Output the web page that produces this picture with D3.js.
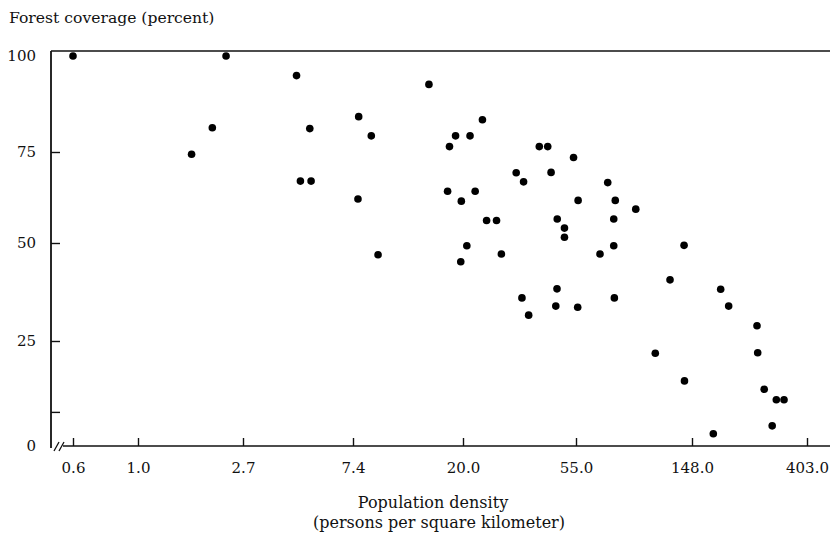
<!DOCTYPE html>
<html lang="en">

<head>
  <meta charset="UTF-8">
  <title>Forest coverage vs population density</title>
  <style>
    body { margin: 0; background: #fff; }
    svg text { font-family: 'DejaVu Serif', serif; fill: #111; }
  </style>
</head>

<body>
  <div id="svg"></div>

  <script src="https://d3js.org/d3.v7.min.js"></script>

  <script>
    // population density (persons / km2) and forest coverage (%) per country
    const density = [0.6, 1.66, 2.02, 2.30, 4.41, 4.57, 4.98, 5.04, 7.74, 7.79,
      8.73, 9.28, 14.7, 17.4, 17.7, 18.7, 19.7, 20.7, 19.6, 21.3,
      22.3, 23.8, 24.7, 27.0, 28.2, 32.2, 33.9, 34.4, 36.0, 39.6,
      42.7, 44.0, 46.5, 46.4, 45.9, 49.6, 49.6, 53.8, 56.0, 55.8,
      67.5, 72.1, 75.9, 76.9, 75.9, 76.3, 91.6, 108.2, 122.7, 138.3,
      138.8, 178.2, 190.0, 203.7, 260.7, 262.3, 277.6, 297.6, 308.5, 329.9]
    const forest = [100, 74.4, 81.3, 100, 94.9, 67.0, 81.1, 67.0, 62.1, 84.2,
      79.2, 47.0, 92.6, 64.2, 76.4, 79.2, 61.5, 49.3, 45.2, 79.2,
      64.2, 83.4, 56.2, 56.2, 47.2, 69.3, 36.0, 66.8, 31.6, 76.4,
      76.4, 69.4, 56.6, 38.3, 33.9, 54.1, 51.6, 73.5, 61.7, 33.6,
      47.2, 66.6, 56.6, 61.7, 49.3, 36.0, 59.3, 22.1, 40.6, 49.4,
      15.5, 2.9, 38.2, 33.9, 28.9, 22.2, 13.5, 4.8, 11.0, 11.0]

    const xTicks = [0.6, 1.0, 2.7, 7.4, 20.0, 55.0, 148.0, 403.0]
    const xTickLabels = ['0.6', '1.0', '2.7', '7.4', '20.0', '55.0', '148.0', '403.0']
    const yTicks = [0, 25, 50, 75, 100]
    const yExtraTick = [8]

    const width = 830
    const height = 540
    const svg = d3.select('#svg').append('svg').attr('width', width).attr('height', height)

    const axisLeftX = 51
    const axisBottomY = 446
    const topY = 51

    // the printed axis is not evenly spaced, so each labelled tick gets its own stop
    const x = d3.scaleLog().domain(xTicks).range([73, 138, 243, 353, 463, 576, 692, 807])
    const y = d3.scaleLinear().domain(yTicks).range([446, 341, 243, 152, 56])

    // frame: top rule, left axis, broken corner, bottom axis
    svg.append('line').attr('x1', axisLeftX).attr('x2', width).attr('y1', topY).attr('y2', topY)
      .attr('stroke', '#111').attr('stroke-width', 1.6)
    svg.append('line').attr('x1', axisLeftX).attr('x2', axisLeftX).attr('y1', topY).attr('y2', axisBottomY + 2)
      .attr('stroke', '#111').attr('stroke-width', 1.8)
    svg.append('path').attr('d', 'M54,451 L59,442 M59,451 L64,442')
      .attr('stroke', '#111').attr('stroke-width', 1.3).attr('fill', 'none')
    svg.append('line').attr('x1', 63).attr('x2', width).attr('y1', axisBottomY).attr('y2', axisBottomY)
      .attr('stroke', '#111').attr('stroke-width', 1.6)

    const xAxis = d3.axisBottom(x).tickValues(xTicks).tickFormat((d, i) => xTickLabels[i])
      .tickSize(-8).tickPadding(16)
    const gX = svg.append('g').attr('transform', `translate(0,${axisBottomY})`).call(xAxis)
    gX.select('.domain').remove()

    const yAxis = d3.axisLeft(y).tickValues(yTicks).tickSize(-9).tickPadding(15)
    const gY = svg.append('g').attr('transform', `translate(${axisLeftX},0)`).call(yAxis)
    gY.select('.domain').remove()
    gY.selectAll('.tick line').filter(d => d === 0 || d === 100).remove()

    svg.append('g').selectAll('line').data(yExtraTick).enter().append('line')
      .attr('x1', axisLeftX).attr('x2', axisLeftX + 9)
      .attr('y1', d => y(d)).attr('y2', d => y(d))
      .attr('stroke', '#111').attr('stroke-width', 1.4)

    svg.selectAll('.tick line').attr('stroke', '#111').attr('stroke-width', 1.4)
    svg.selectAll('.tick text').attr('font-size', '15px').attr('font-family', "'DejaVu Serif', serif").attr('fill', '#111')

    // points
    svg.append('g').selectAll('circle').data(density).enter().append('circle')
      .attr('cx', d => x(d))
      .attr('cy', (d, i) => y(forest[i]))
      .attr('r', 3.8)
      .attr('fill', '#000')

    // titles
    svg.append('text').attr('x', 9).attr('y', 23).attr('font-size', '15.6px')
      .text('Forest coverage (percent)')
    svg.append('text').attr('x', 433).attr('y', 508).attr('font-size', '16px').attr('text-anchor', 'middle')
      .text('Population density')
    svg.append('text').attr('x', 439).attr('y', 528).attr('font-size', '16px').attr('text-anchor', 'middle')
      .text('(persons per square kilometer)')
  </script>
</body>

</html>
